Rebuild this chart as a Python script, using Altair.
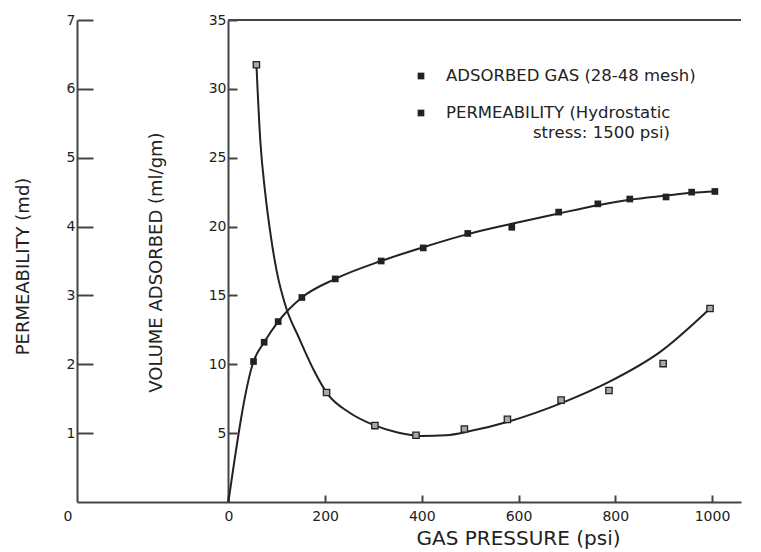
import altair as alt
import pandas as pd

# ---------------- data ----------------
X_DOMAIN = [-313, 1060]
X_TICKS = [0, 200, 400, 600, 800, 1000]
VOL_DOMAIN = [0, 35]
VOL_TICKS = [5, 10, 15, 20, 25, 30, 35]
PERM_DOMAIN = [0, 7]
PERM_TICKS = [1, 2, 3, 4, 5, 6, 7]

# adsorbed gas (filled squares)
ADS_P = [52, 74, 103, 152, 221, 316, 403, 495, 586, 683, 764, 830, 905, 958, 1006]
ADS_V = [10.2, 11.6, 13.1, 14.85, 16.2, 17.5, 18.45, 19.5, 19.95, 21.05, 21.65, 22.0, 22.15, 22.5, 22.55]
# drawn fitted curve for adsorbed gas
ADS_CURVE_P = [0, 52, 74, 103, 152, 221, 316, 403, 495, 586, 683, 764, 830, 905, 958, 1006]
ADS_CURVE_V = [0, 10.2, 11.6, 13.1, 14.85, 16.2, 17.5, 18.5, 19.45, 20.2, 20.95, 21.55, 21.95, 22.25, 22.45, 22.55]

# permeability (open squares)
PERM_P = [58, 203, 303, 388, 488, 577, 688, 787, 899, 996]
PERM_K = [6.35, 1.59, 1.11, 0.97, 1.06, 1.20, 1.48, 1.62, 2.01, 2.81]
# drawn fitted curve for permeability
PERM_CURVE_P = [58, 66, 76, 88, 100, 120, 145, 177, 205, 250, 300, 350, 400, 450, 500, 580, 690, 786, 893, 996]
PERM_CURVE_K = [6.35, 5.25, 4.5, 3.85, 3.35, 2.81, 2.40, 1.91, 1.57, 1.30, 1.12, 1.01, 0.96, 0.97, 1.03, 1.17, 1.44, 1.74, 2.18, 2.81]

LEGEND_TEXT = ["ADSORBED GAS (28-48 mesh)", "PERMEABILITY (Hydrostatic", "stress: 1500 psi)"]
X_TITLE = "GAS PRESSURE (psi)"
VOL_TITLE = "VOLUME ADSORBED (ml/gm)"
PERM_TITLE = "PERMEABILITY (md)"

# ---------------- style ----------------
FONT = "DejaVu Sans"
INK = "#222222"
AXIS_INK = "#444444"
W, H = 664, 482
VOL_AXIS_SHIFT = -151  # volume axis sits at 0 psi

xscale = alt.Scale(domain=X_DOMAIN, nice=False, zero=False)
vscale = alt.Scale(domain=VOL_DOMAIN, nice=False)
pscale = alt.Scale(domain=PERM_DOMAIN, nice=False)

common = dict(ticks=True, tickColor=AXIS_INK, tickWidth=2, tickOpacity=1, grid=False,
              labelFont=FONT, labelColor=INK, labelFlush=False, domainColor=AXIS_INK,
              domainWidth=2, titleFont=FONT, titleColor=INK, titleFontWeight="normal",
              titleAlign="center", titleBaseline="middle")

# inward ticks: a negative tick length given as an expression, label padding compensates
x_axis = alt.Axis(values=X_TICKS, format="d", tickSize={"expr": "-7"}, labelPadding=14,
                  labelFontSize=14, title=X_TITLE, titleFontSize=20, titleX=441, titleY=36,
                  **common)
vol_axis = alt.Axis(orient="left", offset=VOL_AXIS_SHIFT, values=VOL_TICKS,
                    tickSize={"expr": "-9"}, labelPadding=11, labelFontSize=14,
                    title=VOL_TITLE, titleFontSize=18, titleAngle=270,
                    titleX=-72, titleY=242, **common)
perm_axis = alt.Axis(orient="left", values=PERM_TICKS, tickSize={"expr": "-16"},
                     labelPadding=18, labelFontSize=14, title=PERM_TITLE, titleFontSize=18,
                     titleAngle=270, titleX=-54, titleY=246, **common)

X = lambda: alt.X("p:Q", scale=xscale, axis=x_axis)
YV = lambda: alt.Y("v:Q", scale=vscale, axis=vol_axis)
YK = lambda: alt.Y("k:Q", scale=pscale, axis=perm_axis)

ads_df = pd.DataFrame({"p": ADS_P, "v": ADS_V})
ads_curve_df = pd.DataFrame({"p": ADS_CURVE_P, "v": ADS_CURVE_V})
perm_df = pd.DataFrame({"p": PERM_P, "k": PERM_K})
perm_curve_df = pd.DataFrame({"p": PERM_CURVE_P, "k": PERM_CURVE_K})

# ---------------- volume group ----------------
top_df = pd.DataFrame({"p": [X_TICKS[0]], "p2": [X_DOMAIN[1]], "v": [VOL_DOMAIN[1]]})
top_rule = alt.Chart(top_df).mark_rule(color=AXIS_INK, strokeWidth=2).encode(
    x=X(), x2="p2:Q", y=YV())
ads_line = alt.Chart(ads_curve_df).mark_line(interpolate="monotone", color=INK, strokeWidth=2).encode(x=X(), y=YV())
ads_pts = alt.Chart(ads_df).mark_square(size=45, color=INK, opacity=1).encode(x=X(), y=YV())

vol_group = alt.layer(top_rule, ads_line, ads_pts)

# ---------------- permeability group ----------------
perm_line = alt.Chart(perm_curve_df).mark_line(interpolate="monotone", color=INK, strokeWidth=2).encode(x=X(), y=YK())
perm_pts = alt.Chart(perm_df).mark_square(size=40, fill="#a8a8a8", stroke=INK, strokeWidth=1.3,
                                          opacity=1, fillOpacity=1).encode(x=X(), y=YK())
zero_df = pd.DataFrame({"p": [X_DOMAIN[0]], "k": [PERM_DOMAIN[0]], "t": ["0"]})
perm_zero = alt.Chart(zero_df).mark_text(font=FONT, fontSize=14, color=INK, dx=-9, dy=15).encode(
    x=X(), y=YK(), text="t:N")

perm_group = alt.layer(perm_line, perm_pts, perm_zero)

# ---------------- legend (annotation, pixel placed) ----------------
def leg_square(label, y):
    return alt.Chart(pd.DataFrame({"s": [label]})).mark_square(size=45, color=INK, opacity=1).encode(
        x=alt.value(344), y=alt.value(y))

def leg_text(label, x, y):
    return alt.Chart(pd.DataFrame({"s": [label]})).mark_text(
        align="left", baseline="middle", font=FONT, fontSize=16.5, color=INK).encode(
        x=alt.value(x), y=alt.value(y), text="s:N")

legend = alt.layer(
    leg_square(LEGEND_TEXT[0], 56), leg_text(LEGEND_TEXT[0], 369, 56),
    leg_square(LEGEND_TEXT[1], 93), leg_text(LEGEND_TEXT[1], 369, 93),
    leg_text(LEGEND_TEXT[2], 456, 113),
)

chart = alt.layer(vol_group, perm_group, legend).resolve_scale(
    y="independent"
).properties(
    width=W, height=H,
    autosize=alt.AutoSizeParams(type="none"),
    padding={"left": 69, "top": 12, "right": 5, "bottom": 50},
    background="white",
).configure_view(stroke=None)

chart.save("out.html", embed_options={"renderer": "svg", "actions": False})
